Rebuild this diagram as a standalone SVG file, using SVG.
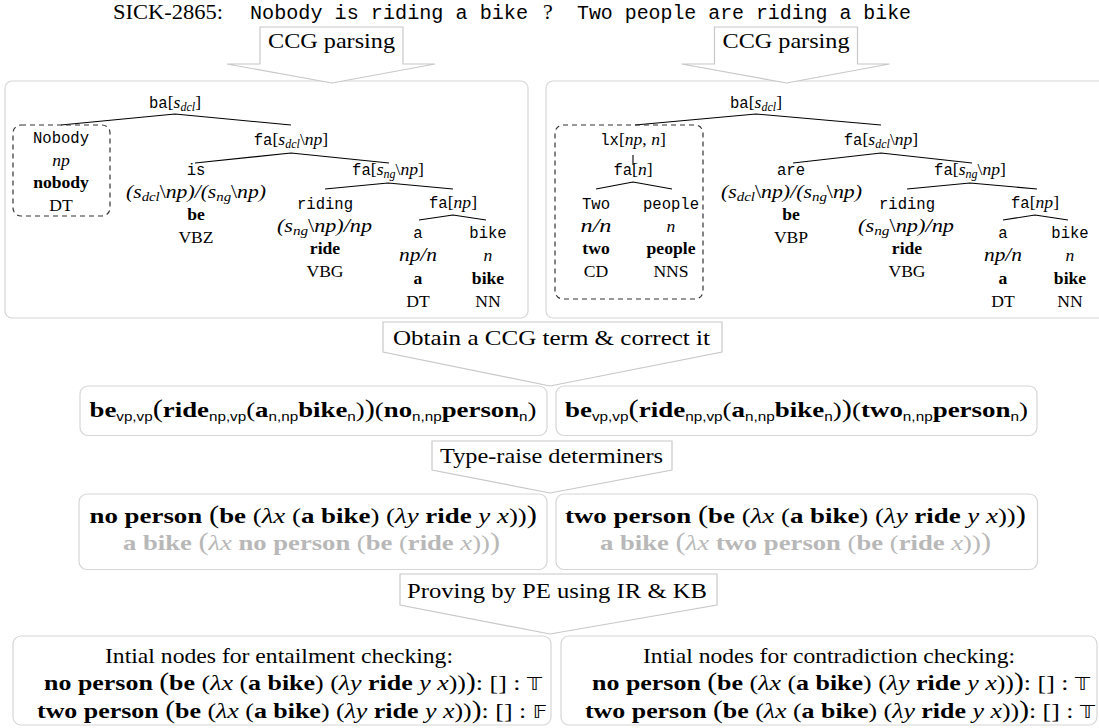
<svg xmlns="http://www.w3.org/2000/svg" width="1099" height="728" viewBox="0 0 1099 728">
<style>
.box{fill:#fff;stroke:#d6d6d6;stroke-width:1.2}
.lbl{fill:#fff;stroke:#c8c8c8;stroke-width:1.2}
.dash{fill:none;stroke:#333;stroke-width:1.2;stroke-dasharray:5 4}
.edge{stroke:#000;stroke-width:1.1;fill:none}
.s{font-family:"Liberation Serif",serif;fill:#000}
.m{font-family:"Liberation Mono",monospace}
.t{font-size:17.6px}
.cat{font-size:19px}
.tm{font-family:"Liberation Mono",monospace;font-size:15.6px}
.L{font-size:22px}
.i{font-style:italic}
.b{font-weight:bold}
.sb{font-size:12px}
.cs{font-size:13px}
.fs{font-family:"Liberation Sans",sans-serif;font-size:12.5px;font-weight:normal}
.g{fill:#b8b8b8}
.bs{font-family:"DejaVu Sans",sans-serif;font-size:18px;font-weight:normal}
.bp{font-size:25px}
</style>
<rect width="1099" height="728" fill="#fff"/>

<g id="title">
<text class="s L" x="113" y="19" textLength="110" lengthAdjust="spacingAndGlyphs">SICK-2865:</text>
<text class="m" font-size="20" x="250" y="19" textLength="278" lengthAdjust="spacingAndGlyphs">Nobody is riding a bike</text>
<text class="s L" x="543" y="19">?</text>
<text class="m" font-size="20" x="577" y="19" textLength="334" lengthAdjust="spacingAndGlyphs">Two people are riding a bike</text>
</g>

<g id="tree-left-box"><rect class="box" x="5" y="81" width="523" height="237" rx="7"/></g>
<g id="tree-right-box"><rect class="box" x="546" y="81" width="570" height="237" rx="7"/></g>

<g id="label-ccg-left">
<polygon class="lbl" points="260,27 403,27 403,64 435,64 332,83 227,64 260,64"/>
<text class="s L" x="268" y="48" textLength="127" lengthAdjust="spacingAndGlyphs">CCG parsing</text>
</g>
<g id="label-ccg-right">
<polygon class="lbl" points="714.5,27 857.5,27 857.5,64 889.5,64 786.5,83 681.5,64 714.5,64"/>
<text class="s L" x="722.5" y="48" textLength="127" lengthAdjust="spacingAndGlyphs">CCG parsing</text>
</g>

<g id="connectors">
<path class="edge" d="M175,114L61,125M175,114L291,125M291,153L195,163M291,153L389,163M388,183L325,189M388,183L453,189M453,215L419,220M453,215L486,220"/>
<path class="edge" d="M756,114L635,125M756,114L881,125M881,153L793,163M881,153L972,163M633,155L633,165M633,182L596,189M633,182L672,189M970,183L907,189M970,183L1037,189M1035,215L1003,220M1035,215L1068,220"/>
</g>

<g id="tree-left">
<g id="L-root"><text class="s t" x="175" y="108" text-anchor="middle"><tspan class="tm">ba</tspan>[<tspan class="i">s</tspan><tspan class="i sb" dy="3">dcl</tspan><tspan dy="-3">]</tspan></text></g>
<g id="L-nobody">
<rect class="dash" x="13" y="125" width="97" height="91" rx="8"/>
<text class="tm" x="61" y="143" text-anchor="middle">Nobody</text>
<text class="s t i" x="61" y="165.7" text-anchor="middle">np</text>
<text class="s t b" x="61" y="188.4" text-anchor="middle">nobody</text>
<text class="s t" x="61" y="211" text-anchor="middle">DT</text>
</g>
<g id="L-fa1"><text class="s t" x="291" y="145" text-anchor="middle"><tspan class="tm">fa</tspan>[<tspan class="i">s</tspan><tspan class="i sb" dy="3">dcl</tspan><tspan dy="-3">\</tspan><tspan class="i">np</tspan>]</text></g>
<g id="L-is">
<text class="tm" x="196" y="175" text-anchor="middle">is</text>
<text class="s cat i" x="126" y="197.7" textLength="140" lengthAdjust="spacingAndGlyphs">(s<tspan class="cs" dy="3">dcl</tspan><tspan dy="-3" font-style="normal">\</tspan>np)/(s<tspan class="cs" dy="3">ng</tspan><tspan dy="-3" font-style="normal">\</tspan>np)</text>
<text class="s t b" x="196" y="220.4" text-anchor="middle">be</text>
<text class="s t" x="196" y="243" text-anchor="middle">VBZ</text>
</g>
<g id="L-fa2"><text class="s t" x="388" y="175" text-anchor="middle"><tspan class="tm">fa</tspan>[<tspan class="i">s</tspan><tspan class="i sb" dy="3">ng</tspan><tspan dy="-3">\</tspan><tspan class="i">np</tspan>]</text></g>
<g id="L-riding">
<text class="tm" x="325" y="209" text-anchor="middle">riding</text>
<text class="s cat i" x="277" y="231.7" textLength="95" lengthAdjust="spacingAndGlyphs">(s<tspan class="cs" dy="3">ng</tspan><tspan dy="-3" font-style="normal">\</tspan>np)/np</text>
<text class="s t b" x="325" y="254.3" text-anchor="middle">ride</text>
<text class="s t" x="325" y="277" text-anchor="middle">VBG</text>
</g>
<g id="L-fa3"><text class="s t" x="453" y="208" text-anchor="middle"><tspan class="tm">fa</tspan>[<tspan class="i">np</tspan>]</text></g>
<g id="L-a">
<text class="tm" x="418" y="238" text-anchor="middle">a</text>
<text class="s cat i" x="399" y="261" textLength="38" lengthAdjust="spacingAndGlyphs">np/n</text>
<text class="s t b" x="418" y="284" text-anchor="middle">a</text>
<text class="s t" x="418" y="307" text-anchor="middle">DT</text>
</g>
<g id="L-bike">
<text class="tm" x="488" y="238" text-anchor="middle">bike</text>
<text class="s t i" x="488" y="261" text-anchor="middle">n</text>
<text class="s t b" x="488" y="284" text-anchor="middle">bike</text>
<text class="s t" x="488" y="307" text-anchor="middle">NN</text>
</g>
</g>

<g id="tree-right">
<g id="R-root"><text class="s t" x="756" y="108" text-anchor="middle"><tspan class="tm">ba</tspan>[<tspan class="i">s</tspan><tspan class="i sb" dy="3">dcl</tspan><tspan dy="-3">]</tspan></text></g>
<rect class="dash" x="555" y="125" width="148" height="174" rx="8"/>
<g id="R-lx"><text class="s t" x="633" y="145" text-anchor="middle"><tspan class="tm">lx</tspan>[<tspan class="i">np</tspan>, <tspan class="i">n</tspan>]</text></g>
<g id="R-fan"><text class="s t" x="633" y="175" text-anchor="middle"><tspan class="tm">fa</tspan>[<tspan class="i">n</tspan>]</text></g>
<g id="R-two">
<text class="tm" x="596" y="209" text-anchor="middle">Two</text>
<text class="s cat i" x="580.5" y="231.7" textLength="31" lengthAdjust="spacingAndGlyphs">n/n</text>
<text class="s t b" x="596" y="254.3" text-anchor="middle">two</text>
<text class="s t" x="596" y="277" text-anchor="middle">CD</text>
</g>
<g id="R-people">
<text class="tm" x="671" y="209" text-anchor="middle">people</text>
<text class="s t i" x="671" y="231.7" text-anchor="middle">n</text>
<text class="s t b" x="671" y="254.3" text-anchor="middle">people</text>
<text class="s t" x="671" y="277" text-anchor="middle">NNS</text>
</g>
<g id="R-fa1"><text class="s t" x="881" y="145" text-anchor="middle"><tspan class="tm">fa</tspan>[<tspan class="i">s</tspan><tspan class="i sb" dy="3">dcl</tspan><tspan dy="-3">\</tspan><tspan class="i">np</tspan>]</text></g>
<g id="R-are">
<text class="tm" x="791" y="175" text-anchor="middle">are</text>
<text class="s cat i" x="721" y="197.7" textLength="141" lengthAdjust="spacingAndGlyphs">(s<tspan class="cs" dy="3">dcl</tspan><tspan dy="-3" font-style="normal">\</tspan>np)/(s<tspan class="cs" dy="3">ng</tspan><tspan dy="-3" font-style="normal">\</tspan>np)</text>
<text class="s t b" x="791" y="220.4" text-anchor="middle">be</text>
<text class="s t" x="791" y="243" text-anchor="middle">VBP</text>
</g>
<g id="R-fa2"><text class="s t" x="970" y="175" text-anchor="middle"><tspan class="tm">fa</tspan>[<tspan class="i">s</tspan><tspan class="i sb" dy="3">ng</tspan><tspan dy="-3">\</tspan><tspan class="i">np</tspan>]</text></g>
<g id="R-riding">
<text class="tm" x="907" y="209" text-anchor="middle">riding</text>
<text class="s cat i" x="858" y="231.7" textLength="96" lengthAdjust="spacingAndGlyphs">(s<tspan class="cs" dy="3">ng</tspan><tspan dy="-3" font-style="normal">\</tspan>np)/np</text>
<text class="s t b" x="907" y="254.3" text-anchor="middle">ride</text>
<text class="s t" x="907" y="277" text-anchor="middle">VBG</text>
</g>
<g id="R-fa3"><text class="s t" x="1035" y="208" text-anchor="middle"><tspan class="tm">fa</tspan>[<tspan class="i">np</tspan>]</text></g>
<g id="R-a">
<text class="tm" x="1003" y="238" text-anchor="middle">a</text>
<text class="s cat i" x="984" y="261" textLength="38" lengthAdjust="spacingAndGlyphs">np/n</text>
<text class="s t b" x="1003" y="284" text-anchor="middle">a</text>
<text class="s t" x="1003" y="307" text-anchor="middle">DT</text>
</g>
<g id="R-bike">
<text class="tm" x="1070" y="238" text-anchor="middle">bike</text>
<text class="s t i" x="1070" y="261" text-anchor="middle">n</text>
<text class="s t b" x="1070" y="284" text-anchor="middle">bike</text>
<text class="s t" x="1070" y="307" text-anchor="middle">NN</text>
</g>
</g>

<g id="label-obtain">
<polygon class="lbl" points="383,322 722,322 722,352 550,386 383,352"/>
<text class="s L" x="393" y="345" textLength="317" lengthAdjust="spacingAndGlyphs">Obtain a CCG term &amp; correct it</text>
</g>

<g id="term-left">
<rect class="box" x="80" y="386" width="467" height="49.5" rx="8"/>
<text class="s L" x="89.5" y="417" textLength="447" lengthAdjust="spacingAndGlyphs"><tspan class="b">be</tspan><tspan class="fs" dy="4">vp,vp</tspan><tspan class="bp" dy="-4">(</tspan><tspan class="b">ride</tspan><tspan class="fs" dy="4">np,vp</tspan><tspan dy="-4">(</tspan><tspan class="b">a</tspan><tspan class="fs" dy="4">n,np</tspan><tspan class="b" dy="-4">bike</tspan><tspan class="fs" dy="4">n</tspan><tspan dy="-4">)</tspan><tspan class="bp">)</tspan>(<tspan class="b">no</tspan><tspan class="fs" dy="4">n,np</tspan><tspan class="b" dy="-4">person</tspan><tspan class="fs" dy="4">n</tspan><tspan dy="-4">)</tspan></text>
</g>
<g id="term-right">
<rect class="box" x="556" y="386" width="481" height="49.5" rx="8"/>
<text class="s L" x="565" y="417" textLength="463" lengthAdjust="spacingAndGlyphs"><tspan class="b">be</tspan><tspan class="fs" dy="4">vp,vp</tspan><tspan class="bp" dy="-4">(</tspan><tspan class="b">ride</tspan><tspan class="fs" dy="4">np,vp</tspan><tspan dy="-4">(</tspan><tspan class="b">a</tspan><tspan class="fs" dy="4">n,np</tspan><tspan class="b" dy="-4">bike</tspan><tspan class="fs" dy="4">n</tspan><tspan dy="-4">)</tspan><tspan class="bp">)</tspan>(<tspan class="b">two</tspan><tspan class="fs" dy="4">n,np</tspan><tspan class="b" dy="-4">person</tspan><tspan class="fs" dy="4">n</tspan><tspan dy="-4">)</tspan></text>
</g>

<g id="label-typeraise">
<polygon class="lbl" points="432,441 672,441 672,470 550,493 432,470"/>
<text class="s L" x="440" y="463" textLength="223" lengthAdjust="spacingAndGlyphs">Type-raise determiners</text>
</g>

<g id="raised-left">
<rect class="box" x="79" y="494" width="468" height="75.5" rx="8"/>
<text class="s L" x="89.5" y="523" textLength="447.5" lengthAdjust="spacingAndGlyphs"><tspan class="b">no person </tspan><tspan class="bp">(</tspan><tspan class="b">be</tspan> (<tspan class="i">λx</tspan> (<tspan class="b">a bike</tspan>) (<tspan class="i">λy</tspan> <tspan class="b">ride</tspan> <tspan class="i">y x</tspan>))<tspan class="bp">)</tspan></text>
<text class="s L g" x="123" y="550" textLength="377" lengthAdjust="spacingAndGlyphs"><tspan class="b">a bike </tspan><tspan class="bp">(</tspan><tspan class="i">λx</tspan> <tspan class="b">no person</tspan> (<tspan class="b">be</tspan> (<tspan class="b">ride</tspan> <tspan class="i">x</tspan>))<tspan class="bp">)</tspan></text>
</g>
<g id="raised-right">
<rect class="box" x="556" y="494" width="481.5" height="75.5" rx="8"/>
<text class="s L" x="565" y="523" textLength="461" lengthAdjust="spacingAndGlyphs"><tspan class="b">two person </tspan><tspan class="bp">(</tspan><tspan class="b">be</tspan> (<tspan class="i">λx</tspan> (<tspan class="b">a bike</tspan>) (<tspan class="i">λy</tspan> <tspan class="b">ride</tspan> <tspan class="i">y x</tspan>))<tspan class="bp">)</tspan></text>
<text class="s L g" x="600" y="550" textLength="391" lengthAdjust="spacingAndGlyphs"><tspan class="b">a bike </tspan><tspan class="bp">(</tspan><tspan class="i">λx</tspan> <tspan class="b">two person</tspan> (<tspan class="b">be</tspan> (<tspan class="b">ride</tspan> <tspan class="i">x</tspan>))<tspan class="bp">)</tspan></text>
</g>

<g id="label-proving">
<polygon class="lbl" points="400,574 717,574 717,605 550,634 400,605"/>
<text class="s L" x="407" y="598" textLength="300" lengthAdjust="spacingAndGlyphs">Proving by PE using IR &amp; KB</text>
</g>

<g id="init-entailment">
<rect class="box" x="13" y="636" width="538" height="89" rx="8"/>
<text class="s L" x="105" y="663" textLength="348" lengthAdjust="spacingAndGlyphs">Intial nodes for entailment checking:</text>
<text class="s L" x="44" y="690" textLength="498" lengthAdjust="spacingAndGlyphs"><tspan class="b">no person </tspan><tspan class="bp">(</tspan><tspan class="b">be</tspan> (<tspan class="i">λx</tspan> (<tspan class="b">a bike</tspan>) (<tspan class="i">λy</tspan> <tspan class="b">ride</tspan> <tspan class="i">y x</tspan>))<tspan class="bp">)</tspan>: [] : <tspan class="bs">𝕋</tspan></text>
<text class="s L" x="37" y="718" textLength="510" lengthAdjust="spacingAndGlyphs"><tspan class="b">two person </tspan><tspan class="bp">(</tspan><tspan class="b">be</tspan> (<tspan class="i">λx</tspan> (<tspan class="b">a bike</tspan>) (<tspan class="i">λy</tspan> <tspan class="b">ride</tspan> <tspan class="i">y x</tspan>))<tspan class="bp">)</tspan>: [] : <tspan class="bs">𝔽</tspan></text>
</g>
<g id="init-contradiction">
<rect class="box" x="561" y="636" width="536" height="89" rx="8"/>
<text class="s L" x="643" y="663" textLength="372" lengthAdjust="spacingAndGlyphs">Intial nodes for contradiction checking:</text>
<text class="s L" x="592" y="690" textLength="498" lengthAdjust="spacingAndGlyphs"><tspan class="b">no person </tspan><tspan class="bp">(</tspan><tspan class="b">be</tspan> (<tspan class="i">λx</tspan> (<tspan class="b">a bike</tspan>) (<tspan class="i">λy</tspan> <tspan class="b">ride</tspan> <tspan class="i">y x</tspan>))<tspan class="bp">)</tspan>: [] : <tspan class="bs">𝕋</tspan></text>
<text class="s L" x="585" y="718" textLength="510" lengthAdjust="spacingAndGlyphs"><tspan class="b">two person </tspan><tspan class="bp">(</tspan><tspan class="b">be</tspan> (<tspan class="i">λx</tspan> (<tspan class="b">a bike</tspan>) (<tspan class="i">λy</tspan> <tspan class="b">ride</tspan> <tspan class="i">y x</tspan>))<tspan class="bp">)</tspan>: [] : <tspan class="bs">𝕋</tspan></text>
</g>
</svg>
